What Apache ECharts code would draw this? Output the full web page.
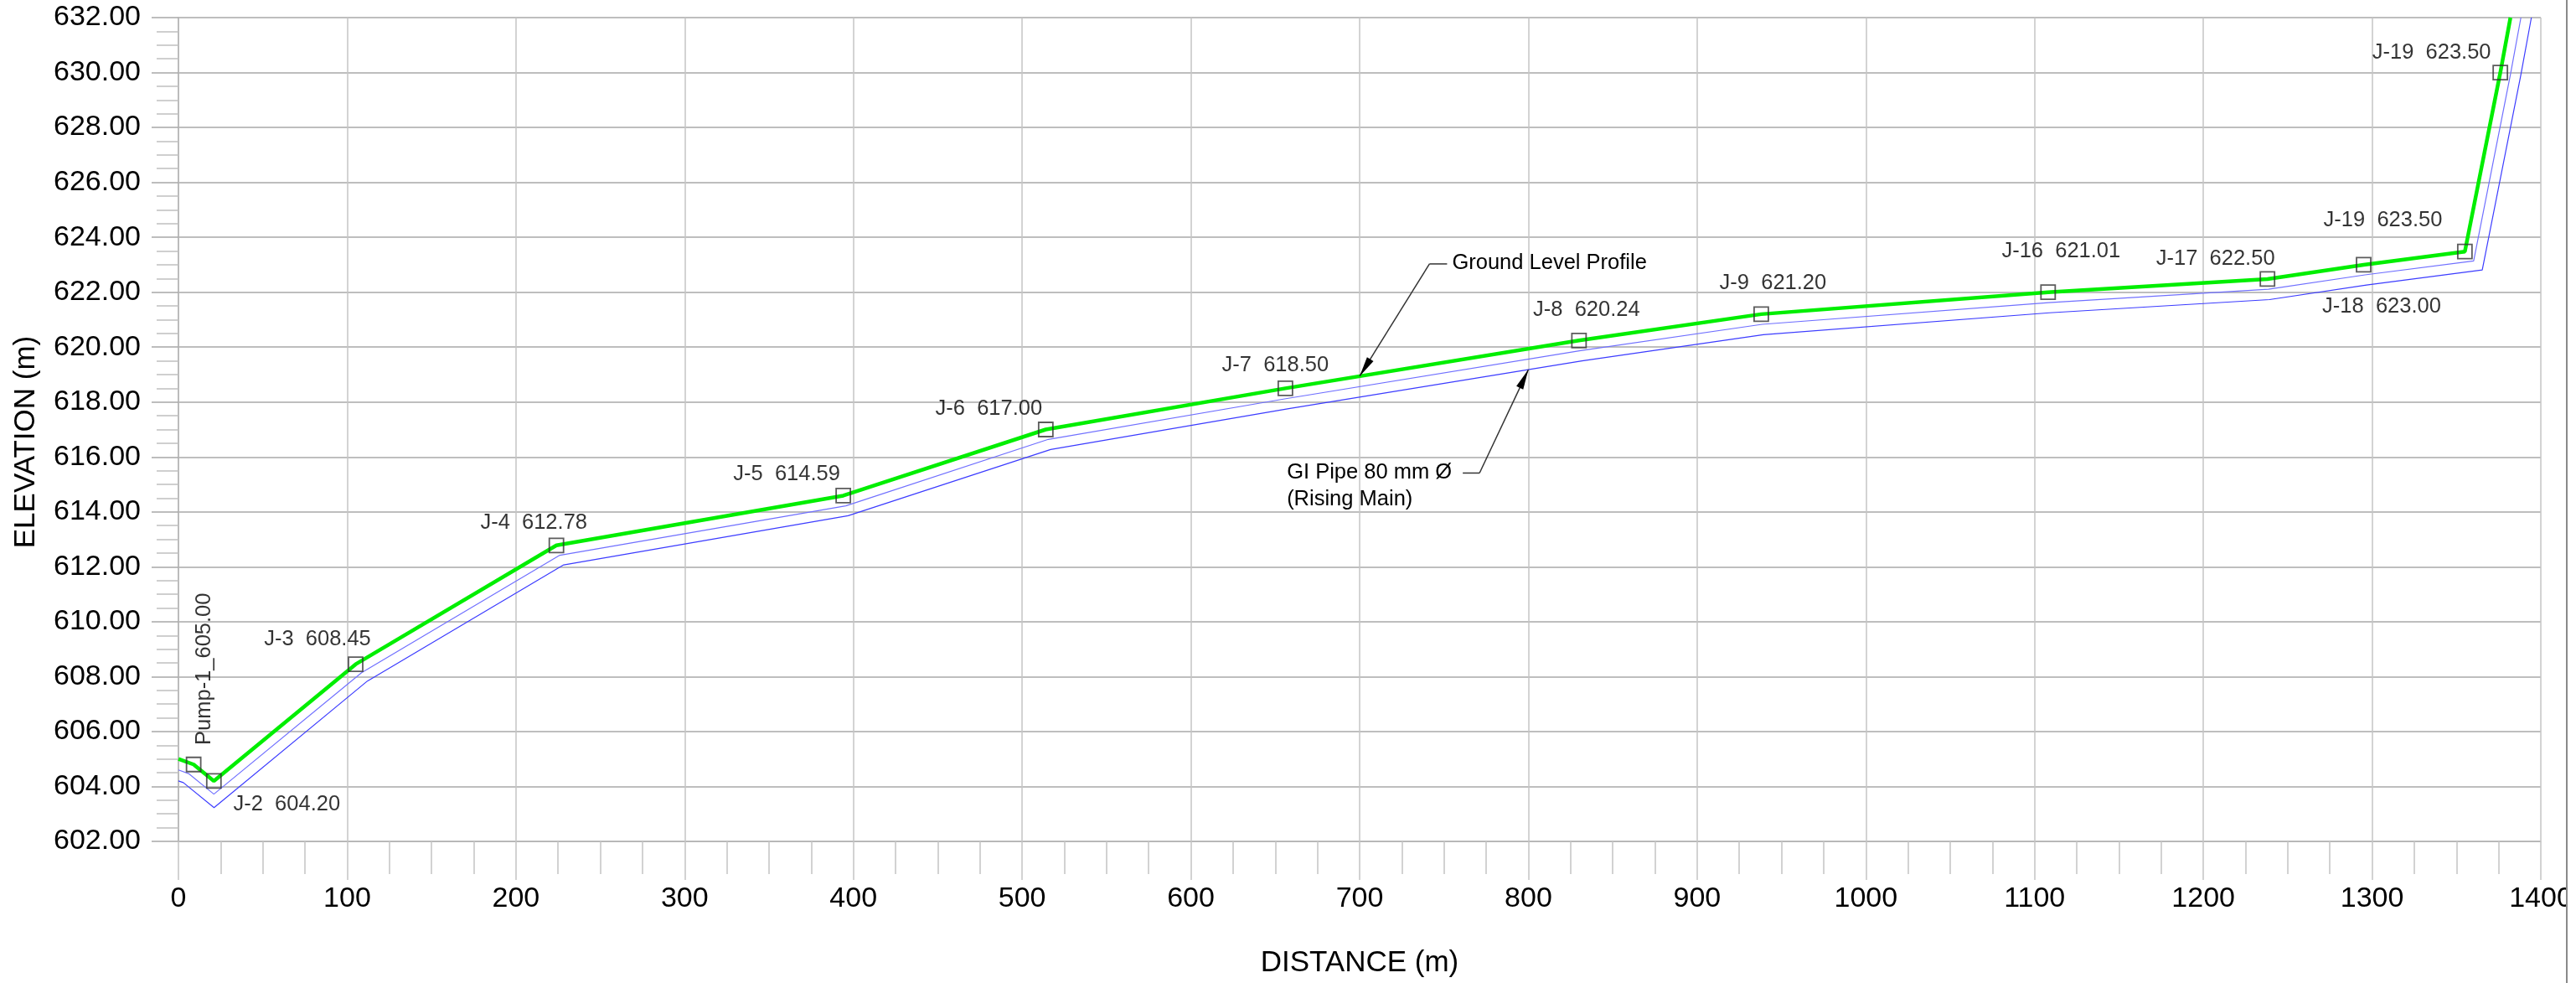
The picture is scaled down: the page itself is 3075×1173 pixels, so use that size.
<!DOCTYPE html>
<html>
<head>
<meta charset="utf-8">
<script src="https://cdn.jsdelivr.net/npm/echarts@6/dist/echarts.min.js"></script>
<style>
html,body{margin:0;padding:0;background:#ffffff;}
#chart{width:3075px;height:1173px;}
</style>
</head>
<body>
<div id="chart"></div>
<script>
// ---------------- DATA ----------------
// Ground level profile (green)
const groundX = [0, 9, 21, 105, 224, 394, 514, 656, 830, 938, 1108, 1238, 1295, 1355, 1376, 1382];
const groundY = [605.00, 604.80, 604.20, 608.45, 612.78, 614.59, 617.00, 618.50, 620.24, 621.20, 622.00, 622.48, 623.00, 623.48, 630.00, 632.00];
// GI pipe, upper (crown) line
const pipeTopX = [0, 6, 21, 108.5, 226, 395.5, 515.5, 657, 831, 938.6, 1108.4, 1238.6, 1295.8, 1360.2, 1382, 1388.2];
const pipeTopY = [604.60, 604.47, 603.72, 608.14, 612.42, 614.22, 616.64, 618.13, 619.87, 620.83, 621.62, 622.11, 622.63, 623.14, 629.93, 632.00];
// GI pipe, lower (invert) line
const pipeBotX = [0, 2.9, 21.1, 112, 228.3, 396.9, 516.9, 658, 831.8, 939.3, 1108.8, 1239.2, 1296.7, 1365.3, 1388, 1394.4];
const pipeBotY = [604.20, 604.14, 603.23, 607.84, 612.07, 613.86, 616.27, 617.76, 619.50, 620.45, 621.25, 621.73, 622.26, 622.81, 629.86, 632.00];
// Junction markers (squares)
const junctionX = [9, 21, 105, 224, 394, 514, 656, 830, 938, 1108, 1238, 1295, 1355, 1376];
const junctionY = [604.80, 604.20, 608.45, 612.78, 614.59, 617.00, 618.50, 620.24, 621.20, 622.00, 622.48, 623.00, 623.48, 630.00];
// Junction labels and the junction each one belongs to
const labelTexts = ['Pump-1_605.00', 'J-2  604.20', 'J-3  608.45', 'J-4  612.78', 'J-5  614.59', 'J-6  617.00',
                    'J-7  618.50', 'J-8  620.24', 'J-9  621.20', 'J-16  621.01', 'J-17  622.50', 'J-19  623.50',
                    'J-18  623.00', 'J-19  623.50'];
const labelJunction = [0, 1, 2, 3, 4, 5, 6, 7, 8, 9, 10, 11, 11, 13];
// Axis ranges / ticks
const xMin = 0, xMax = 1400, xStep = 100;
const yMin = 602, yMax = 632, yStep = 2;
const xTitle = 'DISTANCE (m)';
const yTitle = 'ELEVATION (m)';
// Callouts (text + the data point the arrow points at)
const calloutTexts = ['Ground Level Profile', 'GI Pipe 80 mm Ø', '(Rising Main)'];
const calloutTipX = [700, 800];
const calloutTipY = [618.94, 619.18];

// ---------------- LAYOUT / STYLE (pixels) ----------------
const FONT = '"Liberation Sans", Arial, Helvetica, sans-serif';
const labelOffsets = [[114, 13], [87, 28], [-45.5, -30], [-27, -27], [-67.5, -25], [-68, -25], [-12, -27],
                      [9, -36], [14, -37], [15.5, -49], [-62, -24], [23, -53], [21.5, 50.5], [-82, -24]];
const labelRotate = [90, 0, 0, 0, 0, 0, 0, 0, 0, 0, 0, 0, 0, 0];

const pairs = (xs, ys) => xs.map((x, i) => [x, ys[i]]);

const chart = echarts.init(document.getElementById('chart'), null, {renderer: 'canvas'});

const option = {
  animation: false,
  backgroundColor: '#ffffff',
  textStyle: {fontFamily: FONT},
  grid: {left: 213, top: 21, width: 2820, height: 983, containLabel: false},
  xAxis: {
    type: 'value', min: xMin, max: xMax, interval: xStep,
    name: xTitle, nameLocation: 'middle', nameGap: 128,
    nameTextStyle: {fontSize: 35, color: '#000', fontFamily: FONT},
    axisLine: {show: true, lineStyle: {color: '#b4b4b4', width: 1}},
    axisTick: {show: true, length: 46, lineStyle: {color: '#c4c4c4', width: 1.5}},
    minorTick: {show: true, splitNumber: 4, length: 39, lineStyle: {color: '#c4c4c4', width: 1.5}},
    axisLabel: {fontSize: 34, color: '#000', margin: 52, fontFamily: FONT, showMaxLabel: true, showMinLabel: true,
                formatter: v => String(v)},
    splitLine: {show: true, lineStyle: {color: '#c4c4c4', width: 1.5}}
  },
  yAxis: {
    type: 'value', min: yMin, max: yMax, interval: yStep,
    name: yTitle, nameLocation: 'middle', nameGap: 164, nameRotate: 90,
    nameTextStyle: {fontSize: 35, color: '#000', fontFamily: FONT, padding: [0, 30, 0, 0]},
    axisLine: {show: true, lineStyle: {color: '#b4b4b4', width: 1.5}},
    axisTick: {show: true, length: 32, lineStyle: {color: '#a8a8a8', width: 1.5}},
    minorTick: {show: true, splitNumber: 4, length: 26, lineStyle: {color: '#c0c0c0', width: 1.5}},
    axisLabel: {fontSize: 34, color: '#000', margin: 45, fontFamily: FONT,
                formatter: v => Number(v).toFixed(2)},
    splitLine: {show: true, lineStyle: {color: '#a8a8a8', width: 1.5}}
  },
  series: [
    {
      name: 'Pipe bottom', type: 'line', data: pairs(pipeBotX, pipeBotY),
      showSymbol: false, symbol: 'none', silent: true, z: 2,
      lineStyle: {color: '#3c3cff', width: 1.2}
    },
    {
      name: 'Pipe top', type: 'line', data: pairs(pipeTopX, pipeTopY),
      showSymbol: false, symbol: 'none', silent: true, z: 2,
      lineStyle: {color: '#7070ff', width: 1.2}
    },
    {
      name: 'Ground Level Profile', type: 'line', data: pairs(groundX, groundY),
      showSymbol: false, symbol: 'none', silent: true, z: 3,
      lineStyle: {color: '#00ee00', width: 4.5}
    },
    {
      name: 'Junctions', type: 'scatter', data: pairs(junctionX, junctionY),
      symbol: 'rect', symbolSize: 17, silent: true, z: 4,
      itemStyle: {color: 'rgba(0,0,0,0)', borderColor: '#333333', borderWidth: 1.8}
    },
    {
      name: 'Labels', type: 'scatter', silent: true, z: 5,
      symbol: 'circle', symbolSize: 1,
      itemStyle: {color: 'rgba(0,0,0,0)'},
      data: labelJunction.map((j, i) => ({
        value: [junctionX[j], junctionY[j]],
        label: {
          show: true, position: 'inside', formatter: labelTexts[i],
          offset: labelOffsets[i], rotate: labelRotate[i],
          fontSize: 25.5, color: '#000', fontFamily: FONT
        }
      }))
    }
  ]
};
chart.setOption(option);

// ---------------- Callout arrows / texts ----------------
function arrowHead(tip, from, len, half) {
  const dx = tip[0] - from[0], dy = tip[1] - from[1];
  const L = Math.hypot(dx, dy);
  const ux = dx / L, uy = dy / L;
  const bx = tip[0] - ux * len, by = tip[1] - uy * len;
  return [[tip[0], tip[1]], [bx - uy * half, by + ux * half], [bx + uy * half, by - ux * half]];
}
const t1 = chart.convertToPixel({gridIndex: 0}, [calloutTipX[0], calloutTipY[0]]);
const t2 = chart.convertToPixel({gridIndex: 0}, [calloutTipX[1], calloutTipY[1]]);
const e1 = [t1[0] + 83.4, t1[1] - 134];
const e2 = [t2[0] - 58.3, t2[1] + 123.4];
const leader = {stroke: '#333', lineWidth: 1.5};
const txt = (x, y, s, align) => ({
  type: 'text', x: x, y: y, silent: true, z: 100,
  style: {text: s, fill: '#000', font: '25.5px ' + FONT, textAlign: align || 'left', textVerticalAlign: 'middle'}
});
chart.setOption({
  graphic: [
    {type: 'line', silent: true, z: 100, shape: {x1: e1[0], y1: e1[1], x2: t1[0], y2: t1[1]}, style: leader},
    {type: 'line', silent: true, z: 100, shape: {x1: e1[0], y1: e1[1], x2: e1[0] + 21, y2: e1[1]}, style: leader},
    {type: 'polygon', silent: true, z: 100, shape: {points: arrowHead(t1, e1, 24, 4.5)}, style: {fill: '#000'}},
    txt(e1[0] + 27, e1[1] - 1, calloutTexts[0]),
    {type: 'line', silent: true, z: 100, shape: {x1: e2[0], y1: e2[1], x2: t2[0], y2: t2[1]}, style: leader},
    {type: 'line', silent: true, z: 100, shape: {x1: e2[0], y1: e2[1], x2: e2[0] - 20, y2: e2[1]}, style: leader},
    {type: 'polygon', silent: true, z: 100, shape: {points: arrowHead(t2, e2, 24, 4.5)}, style: {fill: '#000'}},
    txt(e2[0] - 230, e2[1], calloutTexts[1]),
    txt(e2[0] - 230, e2[1] + 32, calloutTexts[2]),
    // sheet frame at the right edge
    {type: 'rect', silent: true, z: 200, shape: {x: 3064, y: 0, width: 11, height: 1173}, style: {fill: '#ffffff'}},
    {type: 'line', silent: true, z: 201, shape: {x1: 3064, y1: 0, x2: 3064, y2: 1173}, style: {stroke: '#8a8a8a', lineWidth: 2}}
  ]
});
</script>
</body>
</html>
